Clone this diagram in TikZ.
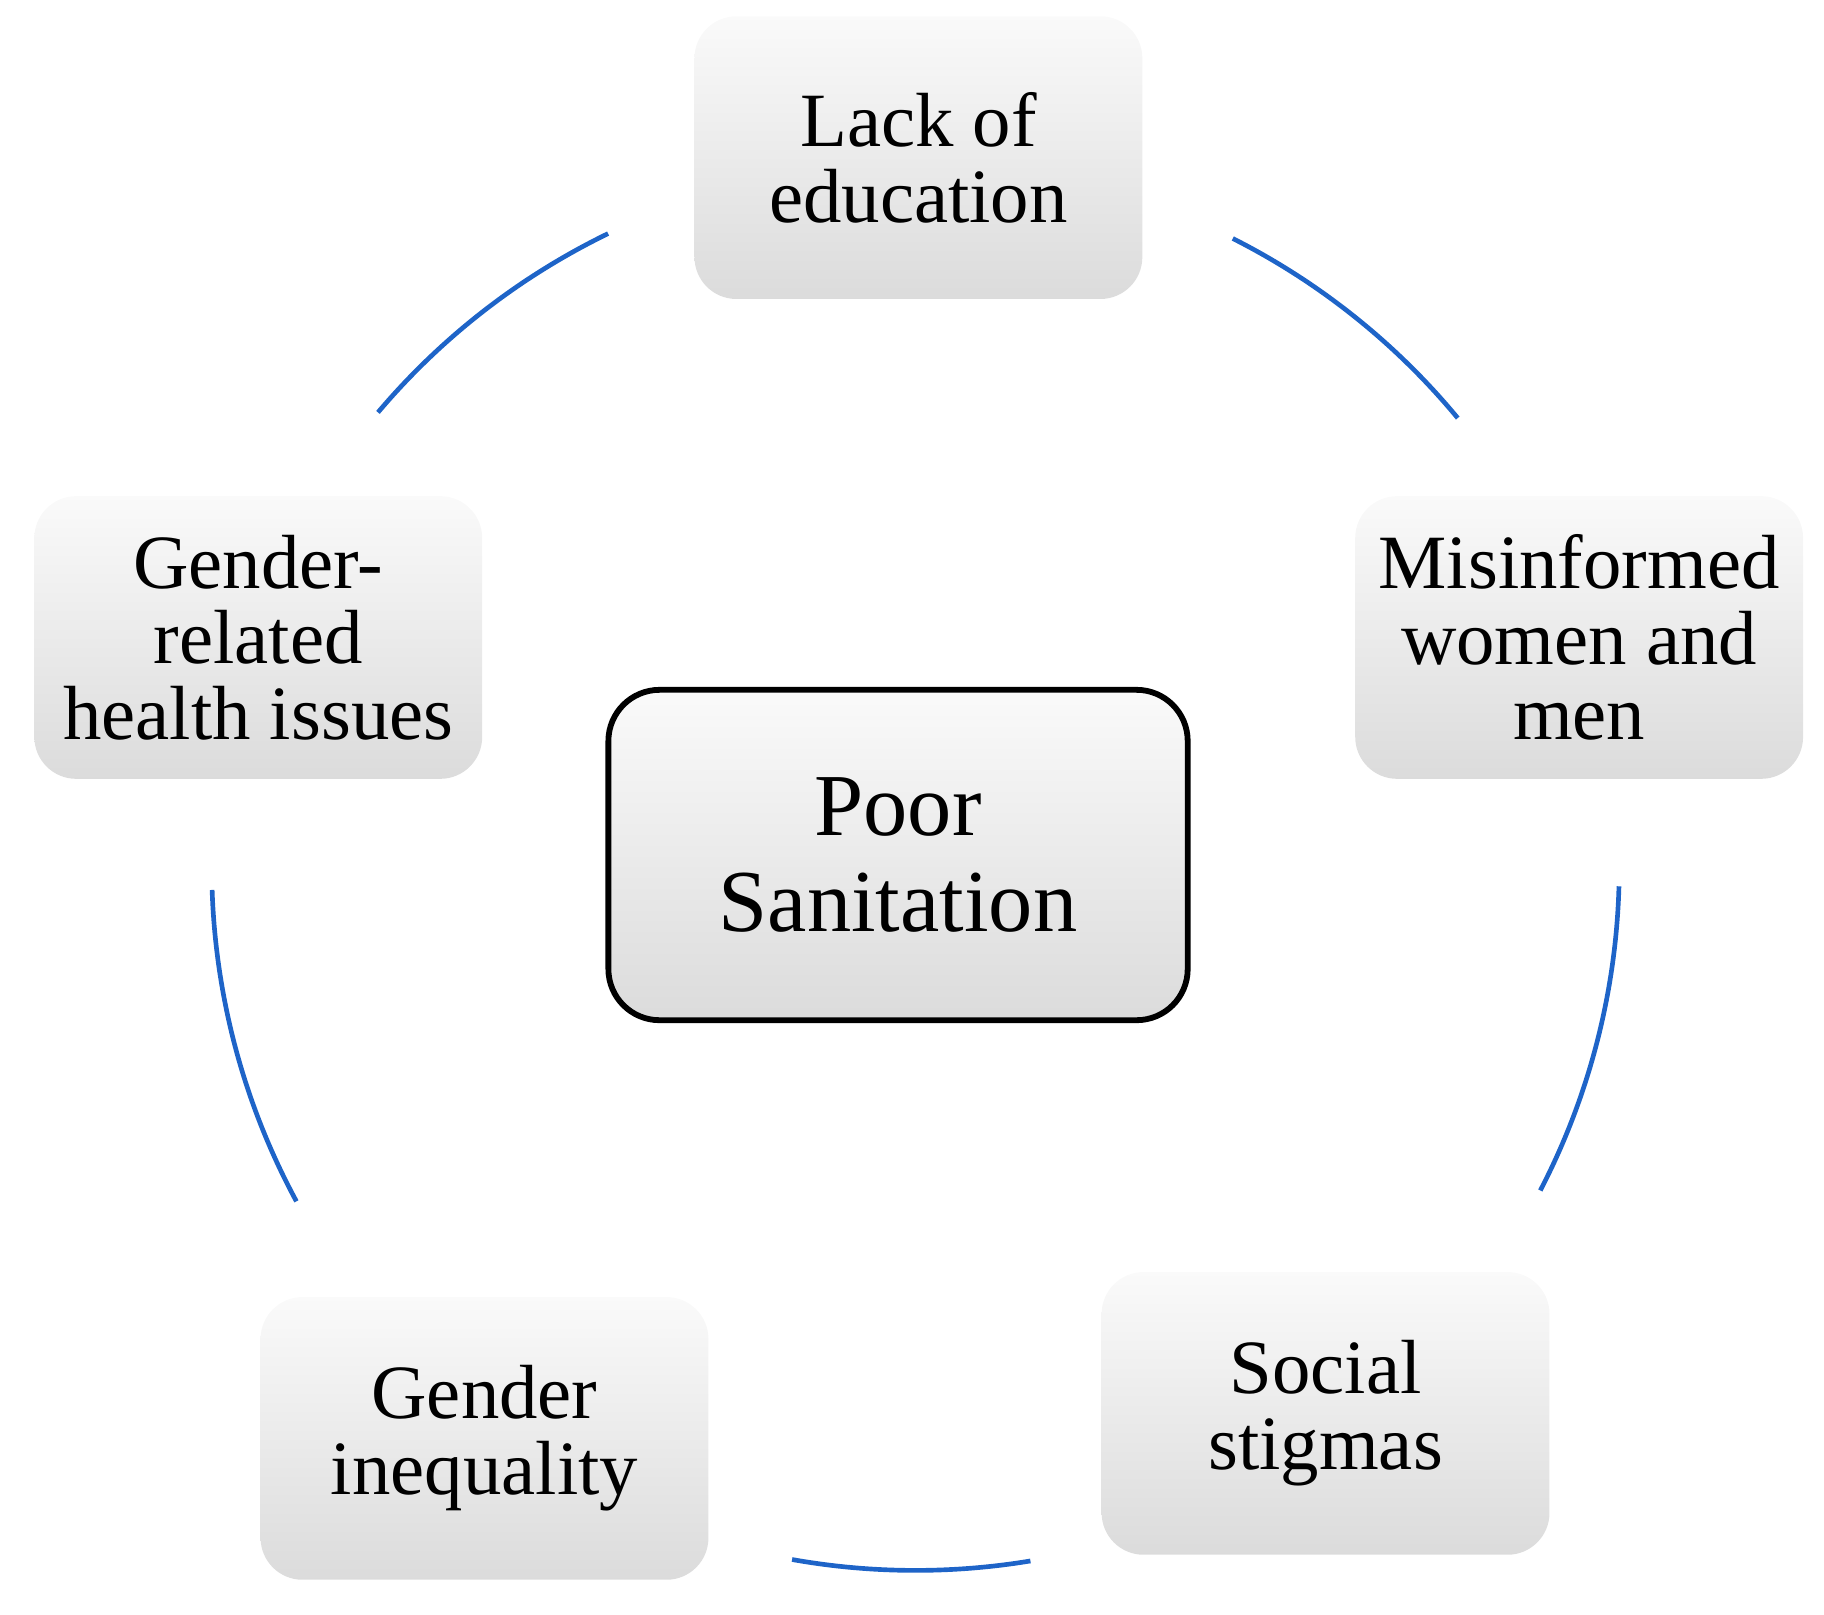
\documentclass[tikz,border=0pt]{standalone}
\usepackage{fontspec}
\setmainfont{Liberation Serif}
\definecolor{arcblue}{RGB}{30,100,200}
\tikzset{
  box/.style={rounded corners=18pt, top color=gray!4, bottom color=gray!28, minimum width=192.5pt, minimum height=121.5pt, align=center, font=\fontsize{33}{32.5}\selectfont, inner sep=0pt},
  center/.style={box, draw=black, line width=2.5pt, rounded corners=22pt, minimum width=249pt, minimum height=142pt, font=\fontsize{38}{41.5}\selectfont},
  ring/.style={arcblue, line width=2pt}
}
\begin{document}
\begin{tikzpicture}[x=0.5pt,y=-0.5pt]
\useasboundingbox (0,0) rectangle (1568,1388);
\node[box] (top) at (789.5,135.5) {Lack of\\education};
\node[box] (right) at (1357.5,548) {Misinformed\\women and\\men};
\node[box] (left) at (222,548) {Gender-\\related\\health issues};
\node[box] (bl) at (416.5,1236.5) {Gender\\inequality};
\node[box] (br) at (1139.5,1215) {Social\\stigmas};
\node[center] (mid) at (772,735) {Poor\\Sanitation};
\begin{scope}[x=0.5pt,y=0.5pt]
\coordinate (C) at (787,-745);
\draw[ring] ([shift={(115.9:605)}]C) arc[start angle=115.9,end angle=139.8,radius=605];
\draw[ring] ([shift={(63.2:605)}]C) arc[start angle=63.2,end angle=39.6,radius=605];
\draw[ring] ([shift={(-1.6:605)}]C) arc[start angle=-1.6,end angle=-27.4,radius=605];
\draw[ring] ([shift={(-80.6:605)}]C) arc[start angle=-80.6,end angle=-100.1,radius=605];
\draw[ring] ([shift={(181.9:605)}]C) arc[start angle=181.9,end angle=208.4,radius=605];
\end{scope}
\end{tikzpicture}
\end{document}
